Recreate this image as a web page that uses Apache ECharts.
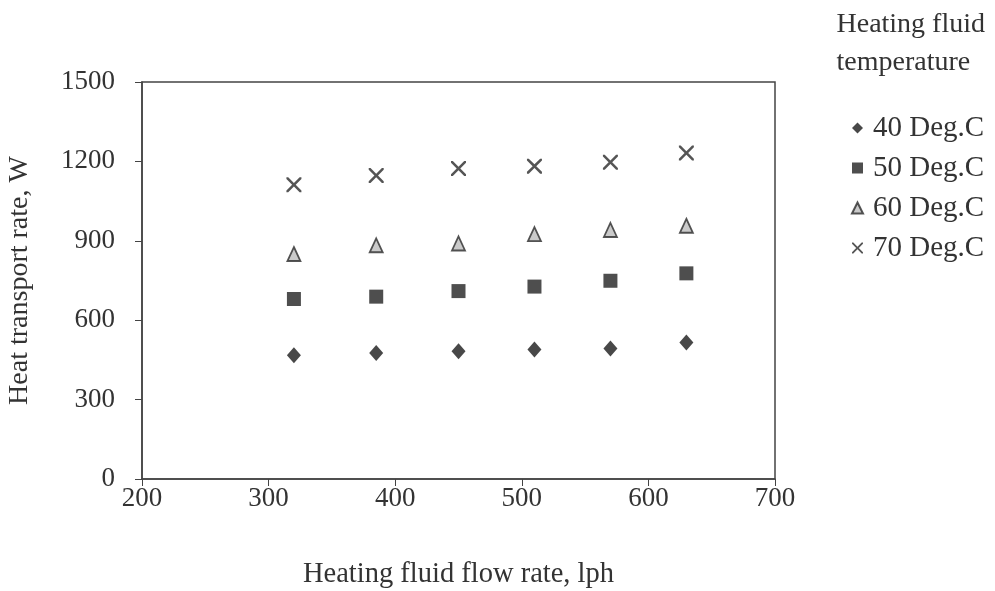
<!DOCTYPE html>
<html>
<head>
<meta charset="utf-8">
<script src="https://cdn.jsdelivr.net/npm/echarts@6/dist/echarts.min.js"></script>
<style>
  html, body { margin: 0; padding: 0; background: #fff; }
  #chart { width: 995px; height: 591px; }
</style>
</head>
<body>
<div id="chart"></div>
<script>
// Heating fluid flow rate (lph) at each measurement
const flowRate = [320, 385, 450, 510, 570, 630];
// Heat transport rate (W) for each heating fluid temperature
const temp40 = [468, 476, 483, 489, 493, 516];
const temp50 = [680, 689, 710, 727, 749, 777];
const temp60 = [850, 883, 890, 925, 941, 957];
const temp70 = [1112, 1147, 1173, 1182, 1197, 1232];
const seriesNames = ['40 Deg.C', '50 Deg.C', '60 Deg.C', '70 Deg.C'];
const xTicks = [200, 300, 400, 500, 600, 700];
const yTicks = [0, 300, 600, 900, 1200, 1500];

const FONT = '"Liberation Serif", "DejaVu Serif", serif';
const INK = '#333';
const TICK_FS = 27;
const NAME_FS = 28.5;
const CROSS = 'path://M0,0 L2.4,0 L10,7.6 L17.6,0 L20,0 L20,2.4 L12.4,10 L20,17.6 L20,20 L17.6,20 L10,12.4 L2.4,20 L0,20 L0,17.6 L7.6,10 L0,2.4 Z';

const pairs = (ys) => flowRate.map((x, i) => [x, ys[i]]);

const chart = echarts.init(document.getElementById('chart'), null, { renderer: 'canvas' });
chart.setOption({
  backgroundColor: '#ffffff',
  animation: false,
  textStyle: { fontFamily: FONT, color: INK },
  title: {
    text: 'Heating fluid\ntemperature',
    right: 5,
    top: 1,
    textStyle: { fontFamily: FONT, fontSize: 28, fontWeight: 'normal', color: INK, lineHeight: 38, align: 'center' }
  },
  legend: {
    orient: 'vertical',
    left: 846,
    top: 108,
    itemGap: 10,
    itemWidth: 11,
    itemHeight: 11,
    textStyle: { fontFamily: FONT, fontSize: 29, color: INK, lineHeight: 30, padding: [0, 0, 0, 5] },
    data: seriesNames
  },
  grid: {
    left: 142, right: 220, top: 82, bottom: 112,
    outerBoundsMode: 'none',
    show: true, borderColor: '#444', borderWidth: 1.5, backgroundColor: 'transparent'
  },
  xAxis: {
    type: 'value',
    min: xTicks[0], max: xTicks[xTicks.length - 1], interval: 100,
    name: 'Heating fluid flow rate, lph',
    nameLocation: 'middle', nameGap: 81,
    nameTextStyle: { fontFamily: FONT, fontSize: NAME_FS, color: INK },
    axisLine: { show: true, lineStyle: { color: '#444', width: 1.5 } },
    axisTick: { show: true, inside: false, length: 7, lineStyle: { color: '#444' } },
    axisLabel: { fontFamily: FONT, fontSize: TICK_FS, color: INK, margin: 6, formatter: (v) => String(v) },
    splitLine: { show: false }
  },
  yAxis: {
    type: 'value',
    min: yTicks[0], max: yTicks[yTicks.length - 1], interval: 300,
    name: 'Heat transport rate, W',
    nameLocation: 'middle', nameGap: 108,
    nameTextStyle: { fontFamily: FONT, fontSize: 28, color: INK },
    axisLine: { show: true, lineStyle: { color: '#444', width: 1.5 } },
    axisTick: { show: true, inside: false, length: 7, lineStyle: { color: '#444' } },
    axisLabel: { fontFamily: FONT, fontSize: TICK_FS, color: INK, margin: 27, formatter: (v) => String(v) },
    splitLine: { show: false }
  },
  series: [
    { name: seriesNames[0], type: 'scatter', data: pairs(temp40), symbol: 'diamond', symbolSize: [14, 16],
      itemStyle: { color: '#1a1a1a' } },
    { name: seriesNames[1], type: 'scatter', data: pairs(temp50), symbol: 'rect', symbolSize: 14,
      itemStyle: { color: '#222' } },
    { name: seriesNames[2], type: 'scatter', data: pairs(temp60), symbol: 'triangle', symbolSize: [13, 14],
      itemStyle: { color: '#bdbdbd', borderColor: '#2a2a2a', borderWidth: 1.8 } },
    { name: seriesNames[3], type: 'scatter', data: pairs(temp70), symbol: CROSS, symbolSize: 15,
      itemStyle: { color: '#2a2a2a' } }
  ]
});
</script>
</body>
</html>
